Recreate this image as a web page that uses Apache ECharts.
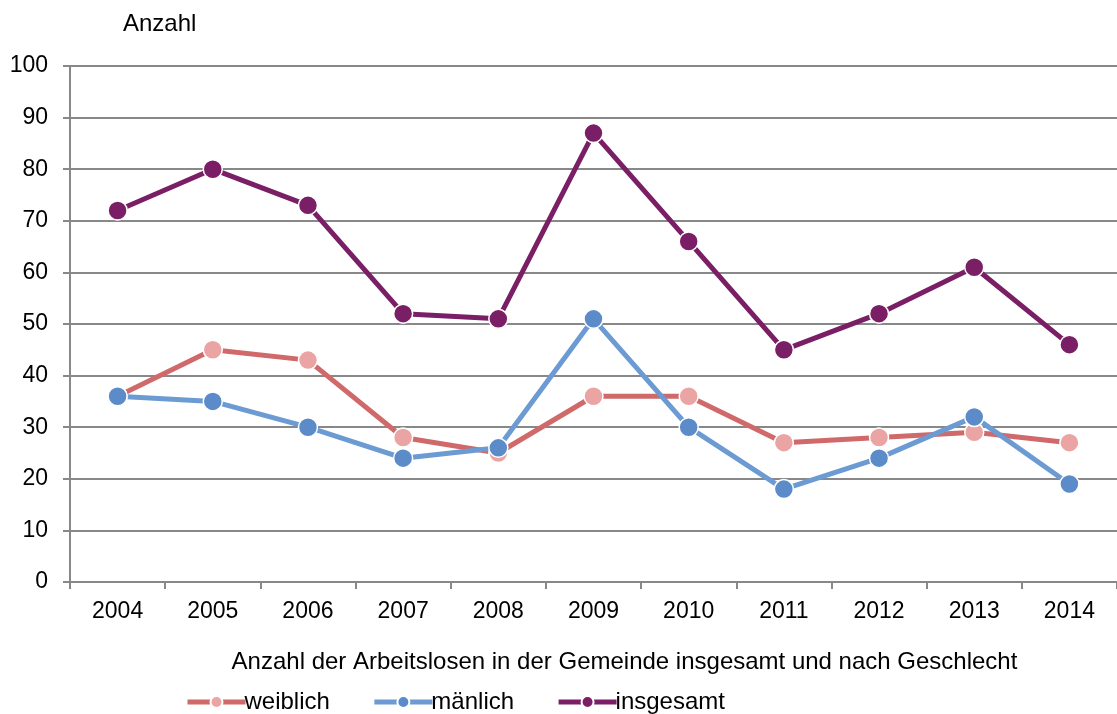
<!DOCTYPE html>
<html>
<head>
<meta charset="utf-8">
<script src="https://cdn.jsdelivr.net/npm/echarts@6/dist/echarts.min.js"></script>
<style>
  html, body { margin: 0; padding: 0; background: #fff; }
  #chart { width: 1117px; height: 714px; }
</style>
</head>
<body>
<div id="chart"></div>
<script>
// Jahre und Werte
var years = ['2004', '2005', '2006', '2007', '2008', '2009', '2010', '2011', '2012', '2013', '2014'];
var weiblich = [36, 45, 43, 28, 25, 36, 36, 27, 28, 29, 27];
var maennlich = [36, 35, 30, 24, 26, 51, 30, 18, 24, 32, 19];
var insgesamt = [72, 80, 73, 52, 51, 87, 66, 45, 52, 61, 46];

var chart = echarts.init(document.getElementById('chart'));
var font = 'Liberation Sans, Arial, sans-serif';

function serie(name, data, color, markerColor) {
  return {
    name: name,
    type: 'line',
    data: data,
    symbol: 'circle',
    symbolSize: 19,
    lineStyle: { color: color, width: 5 },
    itemStyle: { color: markerColor, borderColor: '#fff', borderWidth: 1.5 },
    emphasis: { disabled: true }
  };
}

var option = {
  backgroundColor: '#ffffff',
  animation: false,
  textStyle: { fontFamily: font },
  grid: { left: 70, right: 0, top: 66, bottom: 132 },
  legend: {
    top: 685,
    left: 180,
    itemWidth: 58,
    itemHeight: 15,
    itemGap: 42,
    lineStyle: { width: 5 },
    textStyle: { fontSize: 24, color: '#000', fontFamily: font, padding: [0, 0, 0, -6] },
    data: ['weiblich', 'mänlich', 'insgesamt']
  },
  xAxis: {
    type: 'category',
    data: years,
    boundaryGap: true,
    name: 'Anzahl der Arbeitslosen in der Gemeinde insgesamt und nach Geschlecht',
    nameLocation: 'middle',
    nameGap: 68,
    nameTextStyle: { fontSize: 24, color: '#000', padding: [0, 0, 0, 62] },
    axisLine: { lineStyle: { color: '#888', width: 2 } },
    axisTick: { show: true, length: 7, lineStyle: { color: '#888', width: 2 } },
    axisLabel: { fontSize: 23, color: '#000', margin: 18 }
  },
  yAxis: {
    type: 'value',
    min: 0,
    max: 100,
    interval: 10,
    name: 'Anzahl',
    nameLocation: 'end',
    nameGap: 30,
    nameTextStyle: { fontSize: 24, color: '#000', align: 'left', padding: [0, 0, 0, 53] },
    axisLine: { show: true, lineStyle: { color: '#888', width: 2 } },
    axisTick: { show: true, length: 7, lineStyle: { color: '#888', width: 2 } },
    splitLine: { lineStyle: { color: '#888', width: 2 } },
    axisLabel: { fontSize: 23, color: '#000', margin: 22 }
  },
  series: [
    serie('weiblich', weiblich, '#d06a6a', '#eba4a4'),
    serie('mänlich', maennlich, '#6c9ad2', '#5b8bc8'),
    serie('insgesamt', insgesamt, '#7a1f66', '#7a1f66')
  ]
};

chart.setOption(option);
</script>
</body>
</html>
